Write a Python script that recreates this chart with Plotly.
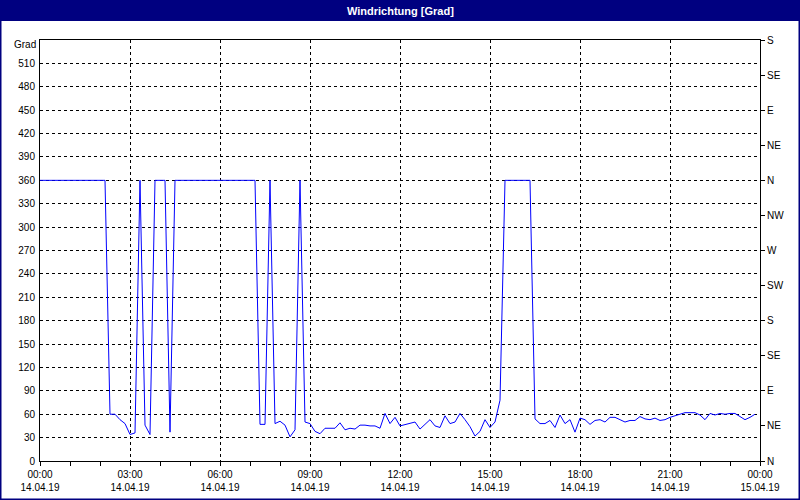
import plotly.graph_objects as go
import pandas as pd

# 10-minute samples of wind direction [Grad], 14.04.19 00:00 .. 23:50
start_time = "2019-04-14 00:00"
end_time = "2019-04-15 00:00"
sample_minutes = 10
direction = [
    360, 360, 360, 360, 360, 360, 360, 360, 360, 360, 360, 360,   # 00:00-01:50
    360, 360, 60, 60, 53, 48, 34, 36, 360, 46, 34, 360,          # 02:00-03:50
    360, 360, 37, 360, 360, 360, 360, 360, 360, 360, 360, 360,   # 04:00-05:50
    360, 360, 360, 360, 360, 360, 360, 360, 47, 47, 360, 48,     # 06:00-07:50
    51, 46, 31, 40, 360, 50, 48, 38, 35, 42, 42, 42,             # 08:00-09:50
    49, 40, 42, 41, 46, 46, 45, 45, 42, 61, 48, 56,              # 10:00-11:50
    45, 47, 48, 50, 41, 47, 53, 45, 43, 58, 48, 50,              # 12:00-13:50
    61, 53, 44, 32, 38, 53, 43, 50, 78, 360, 360, 360,           # 14:00-15:50
    360, 360, 360, 54, 48, 48, 52, 43, 59, 48, 53, 37,           # 16:00-17:50
    55, 53, 47, 52, 53, 50, 56, 56, 53, 50, 52, 52,              # 18:00-19:50
    57, 54, 53, 55, 52, 53, 56, 58, 61, 62, 62, 62,              # 20:00-21:50
    59, 53, 61, 59, 61, 60, 61, 61, 57, 53, 56, 60,              # 22:00-23:50
]
times = pd.date_range(start_time, periods=len(direction), freq=f"{sample_minutes}min")

left_ticks = list(range(0, 540, 30))
compass_vals = [0, 45, 90, 135, 180, 225, 270, 315, 360, 405, 450, 495, 540]
compass_text = ["N", "NE", "E", "SE", "S", "SW", "W", "NW", "N", "NE", "E", "SE", "S"]
title_text = "Windrichtung [Grad]"
unit_text = "Grad"

FONT = "Liberation Sans"
W, H = 800, 500
L, R, T, B = 40, 40, 40, 39
pw, ph = W - L - R, H - T - B

def px(x):
    return (x - L) / pw

def py(y):
    return (H - B - y) / ph

fig = go.Figure()
fig.add_trace(go.Scatter(x=times, y=direction, mode="lines",
                         line=dict(color="#0000FF", width=1), hoverinfo="skip",
                         showlegend=False))
fig.add_trace(go.Scatter(x=[times[0]], y=[0], yaxis="y2", mode="markers",
                         marker=dict(opacity=0), showlegend=False, hoverinfo="skip"))

grid = dict(gridcolor="black", gridwidth=1, griddash="3px,3px")

fig.update_layout(
    width=W, height=H,
    margin=dict(l=L, r=R, t=T, b=B, autoexpand=False),
    paper_bgcolor="white", plot_bgcolor="white",
    font=dict(family=FONT, size=10, color="black"),
    xaxis=dict(
        type="date", range=[start_time, end_time],
        dtick=3 * 3600000, tick0=start_time,
        tickformat="%H:%M<br>%d.%m.%y",
        ticks="outside", ticklen=4, tickcolor="black",
        minor=dict(dtick=3600000, ticks="outside", ticklen=4, tickcolor="black", showgrid=False),
        showgrid=True, **grid,
        showline=True, linecolor="black", linewidth=1, mirror=True,
        zeroline=False, automargin=False, fixedrange=True,
    ),
    yaxis=dict(
        range=[0, 540], tickvals=left_ticks, ticktext=[str(v) for v in left_ticks],
        ticks="", ticklabelstandoff=2,
        showgrid=True, **grid,
        showline=True, linecolor="black", linewidth=1, mirror=True,
        zeroline=False, automargin=False, fixedrange=True,
    ),
    yaxis2=dict(
        range=[0, 540], overlaying="y", side="right",
        tickvals=compass_vals, ticktext=compass_text,
        ticks="outside", ticklen=4, tickcolor="black",
        showgrid=False, showline=True, linecolor="black", linewidth=1,
        zeroline=False, automargin=False, fixedrange=True,
    ),
    shapes=[
        dict(type="rect", xref="paper", yref="paper",
             x0=px(0), x1=px(W), y0=py(21), y1=py(0),
             fillcolor="#000080", line=dict(width=0), layer="above"),
        dict(type="rect", xref="paper", yref="paper",
             x0=px(0.75), x1=px(W - 0.75), y0=py(H - 0.75), y1=py(0.75),
             fillcolor="rgba(0,0,0,0)", line=dict(color="#000080", width=1.5), layer="above"),
    ],
    annotations=[
        dict(text=title_text, xref="paper", yref="paper", x=0.5, y=py(10.5),
             xanchor="center", yanchor="middle", showarrow=False,
             font=dict(family=FONT, size=11, color="white", weight="bold")),
        dict(text=unit_text, xref="paper", yref="paper", x=px(37.5), y=py(44),
             xanchor="right", yanchor="middle", showarrow=False,
             font=dict(family=FONT, size=10, color="black")),
    ],
)

fig.write_html("out.html")
